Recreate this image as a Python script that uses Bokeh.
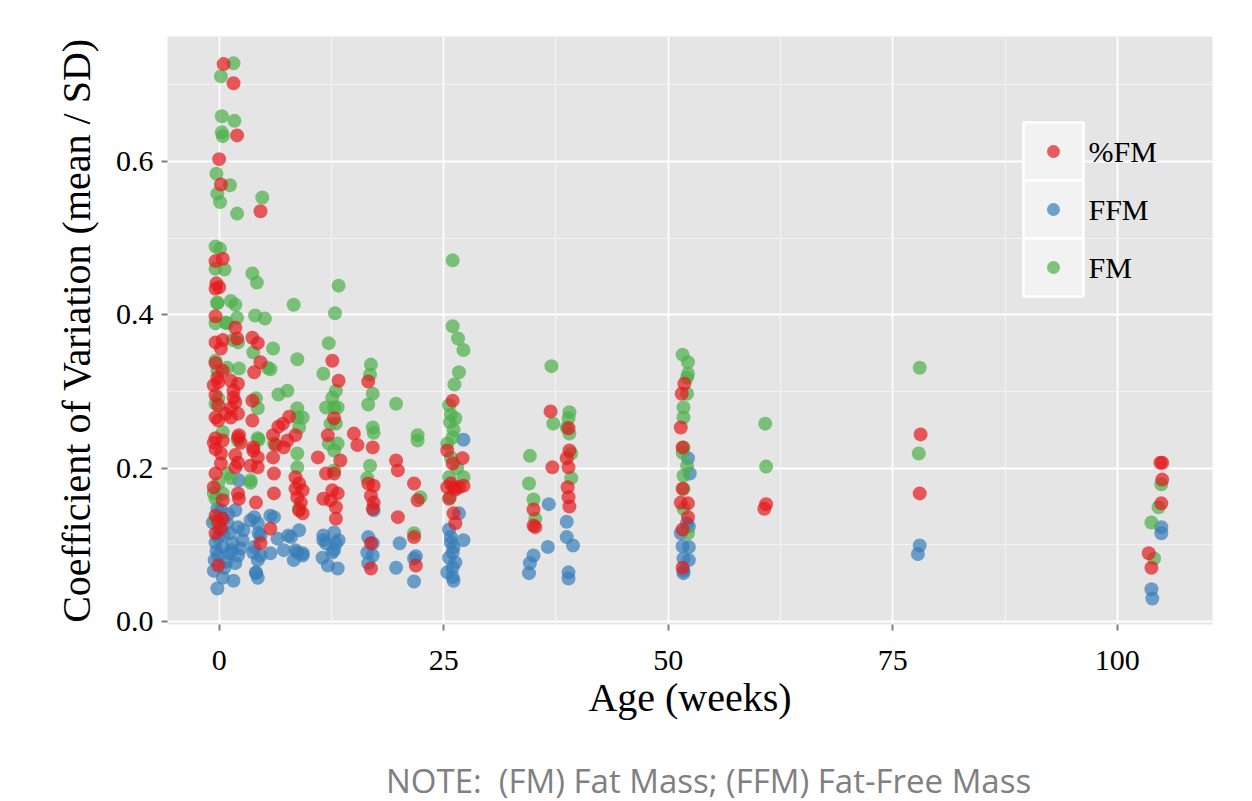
from bokeh.plotting import figure
from bokeh.layouts import column
from bokeh.models import Range1d, FixedTicker, PrintfTickFormatter, BoxAnnotation, Label, Div
from bokeh.embed import file_html
from bokeh.resources import INLINE

# ---------------- data (age in weeks, coefficient of variation) ----------------
series_names = ["%FM", "FFM", "FM"]
series_colors = ["#E41A1C", "#377EB8", "#4DAF4A"]

pct_fm_points = [
    (0.5, .727), (1.6, .702), (2.0, .634), (0.0, .603), (0.2, .570), (4.6, .535),
    (-0.4, .470), (0.4, .473), (-0.3, .441), (0.0, .436), (-0.4, .434), (-0.4, .398), (1.8, .383),
    (-0.4, .364), (0.4, .367), (0.2, .356), (2.0, .369), (3.7, .370), (4.3, .363), (4.6, .338),
    (-0.4, .337), (0.4, .327), (-0.2, .318), (-0.1, .312), (-0.6, .308), (1.3, .314), (2.1, .310),
    (1.6, .301), (3.9, .325), (-0.4, .295), (-0.1, .282), (1.6, .292), (1.8, .286), (1.3, .278),
    (2.1, .271), (3.7, .288), (-0.4, .266), (-0.1, .262), (0.7, .271), (1.3, .266), (3.7, .262),
    (-0.4, .239), (-0.6, .233), (0.4, .236), (2.2, .243), (2.1, .240), (3.8, .227), (4.3, .214),
    (-0.4, .225), (2.4, .233), (0.2, .219), (1.8, .217), (3.8, .223), (4.3, .201), (3.5, .203),
    (-0.4, .193), (0.2, .206), (2.1, .207), (1.8, .201), (-0.6, .175), (0.4, .158), (2.1, .167),
    (2.2, .160), (4.1, .155), (-0.4, .138), (0.4, .134), (-0.4, .115), (0.2, .121), (-0.1, .130),
    (4.6, .102), (-0.1, .073),
    (6.6, .254), (7.2, .227), (6.0, .243), (6.3, .230), (6.0, .214), (6.1, .193), (6.1, .167),
    (5.7, .121), (7.1, .258), (7.8, .267), (8.5, .243), (8.5, .188), (8.9, .180), (8.5, .173),
    (9.3, .171), (8.7, .162), (9.1, .155), (8.9, .145), (9.3, .141), (7.6, .236),
    (11.0, .214), (12.6, .340), (13.3, .314), (12.8, .265), (12.1, .243), (13.5, .210), (11.9, .193),
    (12.8, .193), (12.6, .171), (13.2, .167), (11.6, .160), (12.4, .158), (13.0, .149), (13.0, .134),
    (15.0, .245), (15.4, .230),
    (16.6, .313), (17.1, .227), (16.6, .180), (17.2, .177), (16.9, .164), (17.2, .155), (17.1, .147),
    (16.9, .102), (16.9, .069),
    (19.7, .210), (19.9, .197), (19.9, .136),
    (21.7, .180), (22.1, .158), (21.7, .110), (21.9, .073),
    (26.0, .288), (25.4, .223), (27.1, .213), (26.0, .206), (25.4, .175), (26.1, .175), (26.7, .175),
    (27.2, .177), (25.8, .180), (26.3, .172), (25.6, .160), (26.1, .141), (26.3, .128),
    (35.0, .146), (35.0, .125), (35.2, .123),
    (36.9, .274), (37.1, .201),
    (38.9, .252), (39.0, .223), (38.7, .213), (38.9, .201), (38.8, .175), (38.9, .162), (39.0, .150),
    (51.8, .310), (51.5, .297), (51.4, .253), (51.6, .227), (51.6, .173), (51.4, .155), (52.2, .154),
    (52.2, .136), (51.6, .120), (51.6, .070),
    (60.9, .153), (60.7, .147),
    (78.1, .244), (78.0, .167),
    (104.8, .207), (105.0, .207), (105.0, .185), (104.9, .154), (103.5, .089), (103.8, .070),
]

ffm_points = [
    (-0.2, .147), (1.8, .145), (-0.7, .129), (0.9, .128), (2.1, .123), (3.5, .132), (4.3, .128),
    (2.7, .119), (4.6, .112), (-0.4, .103), (0.4, .097), (1.5, .102), (2.6, .106), (-0.1, .086),
    (1.1, .089), (2.1, .086), (3.8, .090), (4.6, .086), (4.3, .080), (-0.6, .066), (1.8, .076),
    (4.1, .064), (4.3, .057), (-0.2, .043), (1.6, .053), (0.4, .057), (0.2, .145), (2.2, .184),
    (0.0, .120), (0.5, .113), (1.2, .115), (-0.3, .092), (0.8, .078), (1.4, .093), (0.3, .135),
    (-0.5, .080), (1.0, .140), (2.4, .095), (0.6, .070), (-0.1, .110),
    (3.9, .136), (5.7, .138), (4.4, .115), (3.9, .097), (6.5, .108), (8.0, .110), (8.9, .119),
    (8.5, .093), (5.7, .089), (4.1, .063), (9.3, .086), (7.7, .112), (8.7, .090), (9.3, .089),
    (8.3, .080), (7.2, .093), (6.1, .136),
    (12.8, .116), (11.6, .112), (13.0, .102), (12.8, .093), (11.5, .083), (12.1, .073), (13.2, .069),
    (11.6, .106), (12.6, .090), (11.9, .102), (13.3, .106),
    (16.6, .110), (17.1, .102), (16.5, .090), (17.1, .086), (16.6, .076), (17.2, .145),
    (20.1, .102), (19.7, .070),
    (21.7, .082), (21.7, .052), (21.9, .085),
    (27.2, .237), (26.7, .141), (27.2, .106), (25.8, .110), (26.1, .097), (25.6, .083), (26.0, .070),
    (25.4, .064), (26.1, .053), (25.6, .120), (26.0, .090), (25.8, .103), (26.3, .077), (26.0, .058),
    (35.0, .086), (34.6, .076), (34.5, .063),
    (36.7, .153), (36.6, .097),
    (38.7, .130), (38.7, .110), (39.4, .099), (38.9, .064), (38.9, .056),
    (52.2, .213), (52.4, .193), (52.1, .128), (52.3, .124), (51.4, .115), (51.6, .098), (52.3, .097),
    (51.7, .082), (52.3, .080), (51.7, .066), (51.7, .063),
    (78.0, .099), (77.8, .088),
    (104.9, .123), (104.9, .115), (103.8, .042), (103.9, .030),
]

fm_points = [
    (1.6, .728), (0.2, .711), (0.3, .659), (1.7, .653), (0.3, .638), (0.4, .633), (-0.3, .584),
    (1.2, .569), (-0.2, .558), (0.1, .547), (4.8, .553), (2.0, .532),
    (-0.4, .489), (0.1, .486), (-0.4, .460), (0.6, .459), (3.7, .454), (4.2, .442), (8.3, .413),
    (-0.2, .415), (1.3, .418), (1.8, .413), (4.0, .399), (5.1, .395), (0.9, .389), (2.0, .396),
    (-0.2, .416), (-0.4, .389), (0.7, .390), (1.5, .367), (2.1, .364), (3.8, .351), (-0.4, .340),
    (-0.2, .327), (0.9, .331), (2.2, .330), (5.4, .331), (-0.4, .284), (-0.1, .291), (4.1, .291),
    (4.3, .278), (0.4, .247), (2.1, .236), (4.3, .239),
    (0.9, .193), (1.3, .187), (-0.1, .180), (0.4, .167), (-0.4, .160), (-0.6, .167), (3.5, .181),
    (-0.4, .132),
    (6.0, .356), (8.7, .342), (5.7, .329), (6.6, .296), (7.6, .301), (8.7, .278), (9.3, .266),
    (8.7, .266), (8.9, .253), (4.4, .237), (6.1, .232), (8.7, .219), (8.7, .201), (3.5, .184),
    (8.9, .147),
    (13.3, .438), (12.9, .402), (12.2, .363), (11.6, .323), (13.0, .301), (12.6, .292), (12.8, .279),
    (13.2, .279), (12.4, .258), (13.0, .258), (12.2, .232), (12.8, .223), (13.2, .232), (12.8, .197),
    (11.9, .279),
    (16.9, .335), (16.8, .322), (17.1, .297), (16.6, .283), (17.1, .253), (17.2, .246), (16.8, .203),
    (16.5, .187),
    (19.7, .284),
    (22.1, .243), (22.1, .236), (22.4, .162), (21.7, .115),
    (26.0, .471), (26.0, .385), (26.6, .369), (27.2, .354), (26.7, .325), (26.2, .309), (25.6, .282),
    (25.8, .270), (25.7, .260), (26.1, .250), (25.4, .232), (25.8, .214), (25.6, .188), (27.2, .188),
    (25.7, .162), (26.3, .265), (26.0, .240), (26.5, .200),
    (34.6, .216), (34.5, .180), (35.0, .159), (35.2, .134),
    (37.0, .333), (37.2, .258),
    (39.0, .273), (38.9, .265), (38.7, .253), (39.0, .245), (39.2, .219), (39.2, .187),
    (51.6, .348), (52.2, .338), (52.2, .323), (52.1, .318), (52.1, .297), (51.7, .279), (51.7, .266),
    (51.7, .227), (51.6, .220), (52.1, .203), (51.7, .190), (51.7, .173), (51.7, .147), (52.2, .115),
    (60.8, .258), (60.9, .202),
    (78.0, .331), (77.9, .219),
    (104.9, .179), (104.6, .149), (103.8, .129), (104.1, .082),
]

x_ticks = [0, 25, 50, 75, 100]
x_minor = [12.5, 37.5, 62.5, 87.5]
y_ticks = [0.0, 0.2, 0.4, 0.6]
y_minor = [0.1, 0.3, 0.5, 0.7]
note_text = "NOTE:&nbsp;&nbsp;(FM) Fat Mass; (FFM) Fat-Free Mass"

# ---------------- layout ----------------
W, H = 1252, 750          # figure; the note sits in a 51 px strip below it
NOTE_H = 801 - H
BL, BR, BT, BB = 167, 40, 36, 126
XMIN, XMAX = -5.75, 110.6
YMIN, YMAX = -0.004, 0.763
FW, FH = W - BL - BR, H - BT - BB

def px_x(px):
    return XMIN + (px - BL) / FW * (XMAX - XMIN)

def px_y(py):
    return YMAX - (py - BT) / FH * (YMAX - YMIN)

p = figure(width=W, height=H, output_backend="svg", toolbar_location=None,
           x_range=Range1d(XMIN, XMAX), y_range=Range1d(YMIN, YMAX),
           min_border_left=BL, min_border_right=BR, min_border_top=BT, min_border_bottom=BB)
p.background_fill_color = "#E5E5E5"
p.border_fill_color = "white"
p.outline_line_color = None

serif = "Liberation Serif"
for ax in (p.xaxis[0], p.yaxis[0]):
    ax.axis_line_color = None
    ax.major_tick_line_color = "#7F7F7F"
    ax.major_tick_line_width = 2
    ax.major_tick_out = 6
    ax.major_tick_in = 0
    ax.minor_tick_line_color = None
    ax.major_label_text_font = serif
    ax.major_label_text_font_size = "30px"
    ax.major_label_text_color = "black"
    ax.axis_label_text_font = serif
    ax.axis_label_text_font_size = "40px"
    ax.axis_label_text_font_style = "normal"
    ax.axis_label_text_color = "black"

p.xaxis.ticker = FixedTicker(ticks=x_ticks, minor_ticks=x_minor)
p.yaxis.ticker = FixedTicker(ticks=y_ticks, minor_ticks=y_minor)
p.yaxis.formatter = PrintfTickFormatter(format="%.1f")
p.xaxis.axis_label = "Age (weeks)"
p.yaxis.axis_label = "Coefficient of Variation (mean / SD)"
p.xaxis.major_label_standoff = 20
p.yaxis.major_label_standoff = 8
p.xaxis.axis_label_standoff = 2
p.yaxis.axis_label_standoff = 14

for g in (p.xgrid[0], p.ygrid[0]):
    g.grid_line_color = "white"
    g.grid_line_width = 1.8
    g.minor_grid_line_color = "#F4F4F4"
    g.minor_grid_line_width = 1

# ---------------- points ----------------
all_series = {"%FM": pct_fm_points, "FFM": ffm_points, "FM": fm_points}
color_of = dict(zip(series_names, series_colors))
for name in ["FFM", "FM", "%FM"]:
    pts = all_series[name]
    xs = [a for a, b in pts]
    ys = [b for a, b in pts]
    p.scatter(xs, ys, size=14, fill_color=color_of[name], fill_alpha=0.7, line_color=None)

# ---------------- legend (ggplot style keys) ----------------
key_left, key_right, key_top, key_h = 1023, 1083, 122, 58
for i, name in enumerate(series_names):
    top = key_top + i * key_h
    p.add_layout(BoxAnnotation(left=px_x(key_left), right=px_x(key_right),
                               top=px_y(top), bottom=px_y(top + key_h),
                               fill_color="#F2F2F2", fill_alpha=1,
                               line_color="white", line_width=2.5, line_alpha=1))
    cy = top + key_h / 2
    p.scatter([px_x((key_left + key_right) / 2)], [px_y(cy)], size=13,
              fill_color=color_of[name], fill_alpha=0.7, line_color=None, level="overlay")
    p.add_layout(Label(x=px_x(key_right + 5), y=px_y(cy), text=name,
                       text_font=serif, text_font_size="30px", text_color="black",
                       text_baseline="middle", text_align="left"))

# ---------------- note strip ----------------
note = Div(text=('<div style="font-family:\'Open Sans\'; font-size:33px; color:#808080; '
                 'line-height:33px; padding-left:386px; padding-top:14px; white-space:nowrap;">'
                 + note_text + '</div>'),
           width=W, height=NOTE_H, margin=0)

layout = column(p, note, spacing=0)
open("out.html", "w").write(file_html(layout, INLINE))
